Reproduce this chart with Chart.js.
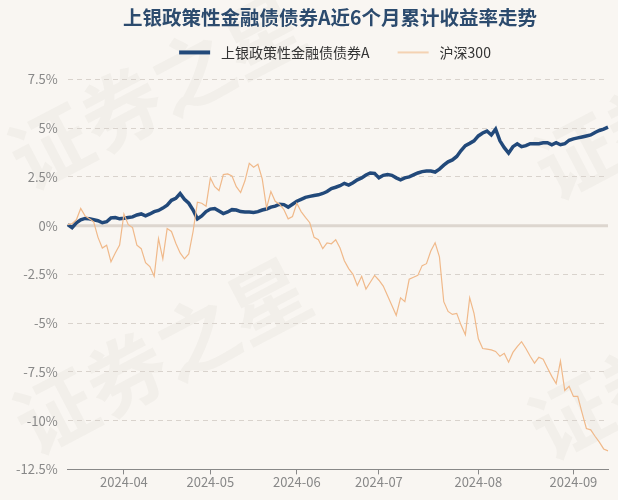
<!DOCTYPE html>
<html>
<head>
<meta charset="utf-8">
<script src="https://cdn.jsdelivr.net/npm/chart.js@4.4.1/dist/chart.umd.min.js"></script>
<style>
html, body { margin: 0; padding: 0; background: #f9f6f2; }
</style>
</head>
<body>
<canvas id="chart" width="618" height="500"></canvas>
<script>
const fundName = '上银政策性金融债债券A';
const indexName = '沪深300';
const titleText = '上银政策性金融债债券A近6个月累计收益率走势';
const tickLabels = ['2024-04', '2024-05', '2024-06', '2024-07', '2024-08', '2024-09'];
const holidays = ['2024-04-04', '2024-04-05', '2024-05-01', '2024-05-02', '2024-05-03', '2024-06-10'];

// cumulative return, %, one value per trading day 2024-03-13 .. 2024-09-12
const fundValues = [
    0.05, -0.1, 0.15, 0.3, 0.37, 0.35, 0.3, 0.25, 0.15, 0.2,
    0.4, 0.42, 0.35, 0.38, 0.42, 0.45, 0.55, 0.6, 0.5, 0.6,
    0.72, 0.78, 0.9, 1.05, 1.3, 1.4, 1.65, 1.35, 1.15, 0.8,
    0.35, 0.5, 0.72, 0.85, 0.88, 0.75, 0.62, 0.7, 0.82, 0.8,
    0.72, 0.7, 0.7, 0.68, 0.72, 0.8, 0.85, 0.95, 1.0, 1.1,
    1.08, 0.95, 1.1, 1.25, 1.35, 1.45, 1.5, 1.55, 1.58, 1.65,
    1.75, 1.9, 1.97, 2.05, 2.17, 2.08, 2.2, 2.35, 2.45, 2.6,
    2.7, 2.68, 2.45, 2.58, 2.62, 2.58, 2.45, 2.35, 2.45, 2.5,
    2.6, 2.7, 2.77, 2.8, 2.8, 2.75, 2.9, 3.1, 3.27, 3.37,
    3.55, 3.85, 4.1, 4.22, 4.35, 4.6, 4.75, 4.85, 4.65, 4.95,
    4.35, 4.0, 3.72, 4.05, 4.2, 4.05, 4.1, 4.2, 4.2, 4.2,
    4.25, 4.25, 4.15, 4.25, 4.15, 4.2, 4.38, 4.45, 4.5, 4.55,
    4.6, 4.65, 4.78, 4.88, 4.95, 5.05
];
const indexValues = [
    0.05, 0.1, 0.3, 0.88, 0.5, 0.35, 0.2, -0.6, -1.15, -1.0,
    -1.85, -1.4, -1.0, 0.6, 0.05, -0.1, -1.0, -1.18, -1.9, -2.1,
    -2.6, -0.67, -1.7, -0.15, -0.3, -0.9, -1.4, -1.7, -1.45, -0.3,
    1.2, 1.15, 1.0, 2.45, 2.0, 1.8, 2.62, 2.65, 2.55, 2.0,
    1.7, 2.3, 3.2, 3.0, 3.15, 2.4, 0.9, 1.75, 1.25, 1.1,
    0.83, 0.35, 0.47, 1.15, 0.72, 0.42, 0.15, -0.6, -0.72, -1.18,
    -0.88, -0.93, -0.72, -1.15, -1.8, -2.2, -2.5, -3.07, -2.6, -3.25,
    -2.9, -2.55, -2.8, -3.1, -3.6, -4.1, -4.6, -3.7, -3.9, -2.75,
    -2.65, -2.55, -2.05, -1.95, -1.3, -0.88, -1.6, -3.9, -4.4, -4.55,
    -4.5, -5.1, -5.6, -3.7, -4.5, -5.8, -6.3, -6.33, -6.37, -6.45,
    -6.7, -6.55, -7.0, -6.5, -6.2, -5.95, -6.3, -6.7, -7.05, -6.75,
    -6.85, -7.3, -7.73, -8.1, -6.95, -8.45, -8.24, -8.76, -8.76, -9.6,
    -10.4, -10.47, -10.8, -11.1, -11.45, -11.55
];

const FONT = "'Noto Sans CJK SC', 'Noto Sans', sans-serif";

function tradingDays(start, end) {
    const out = [];
    const d = new Date(start + 'T00:00:00Z');
    const last = new Date(end + 'T00:00:00Z');
    while (d <= last) {
        const s = d.toISOString().slice(0, 10);
        const wd = d.getUTCDay();
        if (wd !== 0 && wd !== 6 && !holidays.includes(s)) out.push(s);
        d.setUTCDate(d.getUTCDate() + 1);
    }
    return out;
}

const dates = tradingDays('2024-03-13', '2024-09-12');
// first trading day of each labelled month
const monthStarts = tickLabels.map(m => dates.findIndex(s => s.startsWith(m)));

// legend swatch: short line with blank space before it (gap between items) and after it (gap to text)
function legendLine(color, width) {
    const c = document.createElement('canvas');
    c.width = 47;
    c.height = 8;
    const g = c.getContext('2d');
    g.fillStyle = color;
    g.fillRect(12, 4 - width / 2, 31, width);
    return c;
}

const background = {
    id: 'background',
    beforeDraw(chart) {
        const ctx = chart.ctx;
        ctx.save();
        ctx.fillStyle = '#f9f6f2';
        ctx.fillRect(0, 0, chart.width, chart.height);
        // watermark
        ctx.fillStyle = 'rgba(120, 110, 100, 0.05)';
        ctx.font = "bold 80px " + FONT;
        ctx.textBaseline = 'middle';
        [[15, 165], [20, 430], [540, 175], [535, 435]].forEach(([x, y]) => {
            ctx.save();
            ctx.translate(x, y);
            ctx.rotate(-Math.PI / 6.5);
            ctx.fillText('证券之星', 0, 0);
            ctx.restore();
        });
        ctx.restore();
    }
};

const zeroLine = {
    id: 'zeroLine',
    beforeDatasetsDraw(chart) {
        const {ctx, chartArea, scales: {y}} = chart;
        const py = y.getPixelForValue(0);
        ctx.save();
        ctx.strokeStyle = '#ddd6cf';
        ctx.lineWidth = 3;
        ctx.beginPath();
        ctx.moveTo(chartArea.left, py);
        ctx.lineTo(chartArea.right, py);
        ctx.stroke();
        ctx.restore();
    }
};

// title and legend sit a little right of the canvas centre in the original
const shiftHeader = {
    id: 'shiftHeader',
    afterLayout(chart) {
        chart.titleBlock.left += 23;
        chart.titleBlock.right += 23;
        chart.legend.left += 22;
        chart.legend.right += 22;
    }
};

const ctx = document.getElementById('chart').getContext('2d');
const chart = new Chart(ctx, {
    type: 'line',
    data: {
        labels: dates,
        datasets: [
            {
                label: fundName,
                data: fundValues,
                borderColor: '#22497a',
                backgroundColor: '#22497a',
                borderWidth: 3.5,
                pointRadius: 0,
                pointStyle: legendLine('#22497a', 4),
                tension: 0,
                order: 1
            },
            {
                label: indexName,
                data: indexValues,
                borderColor: '#f0b98a',
                backgroundColor: '#f0b98a',
                borderWidth: 1.2,
                pointRadius: 0,
                pointStyle: legendLine('#f0b98a', 1.2),
                tension: 0,
                order: 0
            }
        ]
    },
    options: {
        responsive: false,
        animation: false,
        layout: { padding: { left: 6, right: 10, top: 4, bottom: 10 } },
        plugins: {
            title: {
                display: true,
                text: titleText,
                color: '#2c4b6e',
                font: { family: FONT, size: 19.5, weight: 'bold', lineHeight: 1.2 },
                padding: { top: 2, bottom: 0 }
            },
            subtitle: {
                // spacer between legend and plot
                display: true,
                text: '',
                weight: 500,
                font: { size: 10, lineHeight: 1 },
                padding: 0
            },
            legend: {
                labels: {
                    usePointStyle: true,
                    pointStyleWidth: 47,
                    color: '#333',
                    font: { family: FONT, size: 14 },
                    padding: 16,
                    sort: (a, b) => a.datasetIndex - b.datasetIndex
                }
            },
            tooltip: { enabled: false }
        },
        scales: {
            x: {
                grid: { drawOnChartArea: false, drawTicks: true, tickLength: 5, color: '#888' },
                border: { display: true, color: '#888', width: 1 },
                afterBuildTicks(scale) {
                    scale.ticks = monthStarts.map(i => ({ value: i }));
                },
                ticks: {
                    autoSkip: false,
                    maxRotation: 0,
                    color: '#888',
                    font: { family: FONT, size: 13 },
                    padding: 0,
                    callback(v) { return this.getLabelForValue(v).slice(0, 7); }
                }
            },
            y: {
                min: -12.5,
                max: 7.5,
                grid: {
                    drawTicks: false,
                    color: c => (c.tick.value === 0 || c.tick.value === -12.5) ? 'rgba(0,0,0,0)' : '#d9d3cd',
                    lineWidth: 1
                },
                border: { display: false, dash: [5, 4] },
                ticks: {
                    stepSize: 2.5,
                    color: '#888',
                    font: { family: FONT, size: 13 },
                    padding: 10,
                    callback: v => v + '%'
                }
            }
        }
    },
    plugins: [background, zeroLine, shiftHeader]
});
</script>
</body>
</html>
